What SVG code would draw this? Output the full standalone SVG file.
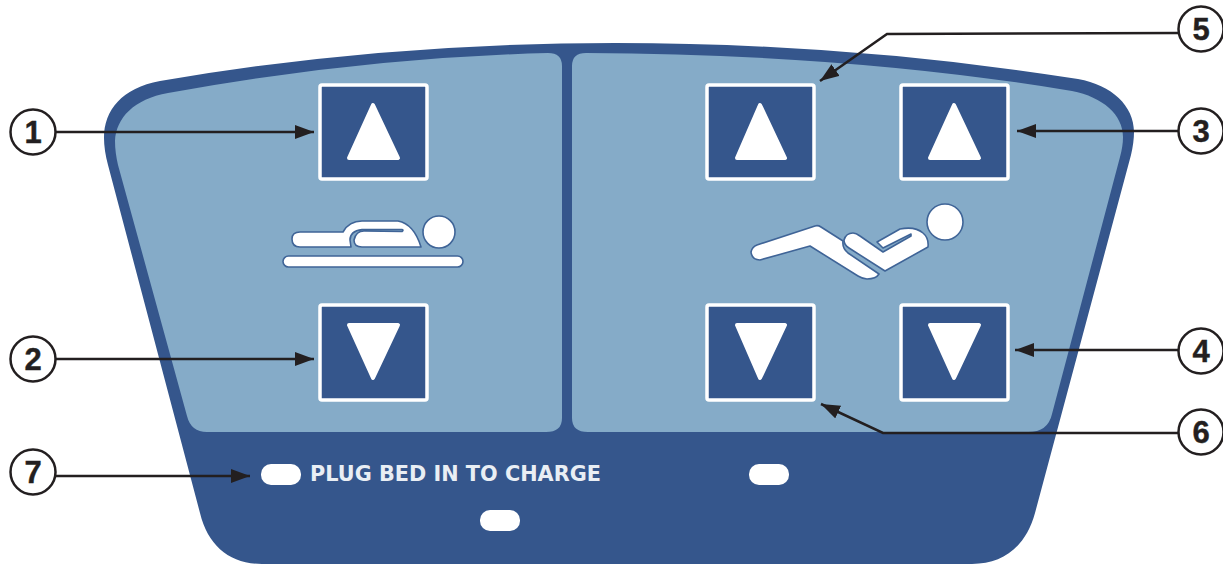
<svg xmlns="http://www.w3.org/2000/svg" width="1223" height="566" viewBox="0 0 1223 566">
<defs>
<style>
.dark{fill:#35568c}
.panel{fill:#85abc8}
.btn{fill:#35568c;stroke:#fff;stroke-width:3.5}
.wht{fill:#fff}
.tri{fill:#fff;stroke:#fff;stroke-width:4;stroke-linejoin:round}
.ico{fill:#fff;stroke:#3f6497;stroke-width:1.6;stroke-linejoin:round}
.conn{fill:none;stroke:#231f20;stroke-width:2.5}
.cir{fill:#fff;stroke:#231f20;stroke-width:2.5}
.num{font-family:"Liberation Sans",Arial,sans-serif;font-weight:700;font-size:31px;fill:#231f20;text-anchor:middle;stroke:#231f20;stroke-width:.4}
.lbl{font-family:"DejaVu Sans",Verdana,sans-serif;font-weight:700;font-size:22px;fill:#e9eef4}
</style>
<marker id="arr" markerUnits="userSpaceOnUse" markerWidth="20" markerHeight="16" refX="19" refY="7" orient="auto">
<path d="M0 0L19 7L0 14Z" fill="#231f20"/>
</marker>
</defs>
<g id="panel">
<path class="dark" d="M160 81Q380 43 615 43Q850 43 1078 79C1112 85 1134 106 1134 132Q1134 142 1131 155L1035 513C1026 546 1004 564 972 564L262 564C230 564 208 546 200 513L108 165Q104 150 104 138C104 110 122 88 160 81Z"/>
<path class="panel" d="M168 93Q360 58 548 53Q562 53 562 66L562 418Q562 432 546 432L207 432Q191 432 187 416L118 165Q115 152 115 141C116 118 134 99 168 93Z"/>
<path class="panel" d="M572 66Q572 53 586 53Q850 54 1072 91C1103 97 1123 115 1123 137Q1123 146 1120 157L1052 414Q1048 432 1028 432L588 432Q572 432 572 418Z"/>
</g>
<g id="button-left-up"><rect class="btn" x="320" y="85" width="107" height="94" rx="2"/><path class="tri" d="M373 105L398 158L349 158Z"/></g>
<g id="button-left-down"><rect class="btn" x="320" y="305" width="107" height="95" rx="2"/><path class="tri" d="M373 378L398 325L349 325Z"/></g>
<g id="button-mid-up"><rect class="btn" x="707" y="85" width="107" height="94" rx="2"/><path class="tri" d="M760 105L785 158L737 158Z"/></g>
<g id="button-mid-down"><rect class="btn" x="707" y="305" width="107" height="95" rx="2"/><path class="tri" d="M760 378L785 325L737 325Z"/></g>
<g id="button-right-up"><rect class="btn" x="901" y="85" width="107" height="94" rx="2"/><path class="tri" d="M954 105L979 158L930 158Z"/></g>
<g id="button-right-down"><rect class="btn" x="901" y="305" width="107" height="95" rx="2"/><path class="tri" d="M954 378L979 325L930 325Z"/></g>
<g id="icon-flat">
<rect class="ico" x="283" y="256" width="180" height="11" rx="5.5"/>
<circle class="ico" cx="439" cy="232" r="16"/>
<path class="ico" d="M300 232L343 232Q349 221 362 221L398 221Q414 224 421 247L362 247Q354 247 354 240Q356 231 364 231L402 231.500Q404 230 402 229.500L362 229.500Q350 231 350 240L351 247L300 247Q292 247 292 239Q292 232 300 232Z"/>
</g>
<g id="icon-recline">
<circle class="ico" cx="945" cy="222" r="18"/>
<path class="ico" d="M757 245L815 226Q818 225 821 227L843 241Q842 248 848 253L879 274Q876 279 867 279Q863 279 858 276L810 246L760 260Q752 260 751 252Q752 247 757 245Z"/>
<path class="ico" d="M844 240Q846 233 853 233Q856 233 860 236L883 252L911 236L911 234L883 248L877 242L900 229Q915 226 923 233Q929 238 928 247L885 271L849 248Q844 245 844 240Z"/>
</g>
<g id="led-1"><rect class="wht" x="261" y="464" width="40" height="21" rx="10"/></g>
<g id="led-2"><rect class="wht" x="749" y="464" width="40" height="21" rx="10"/></g>
<g id="led-3"><rect class="wht" x="480" y="510" width="40" height="21" rx="10"/></g>
<text class="lbl" x="310" y="481" textLength="291" lengthAdjust="spacingAndGlyphs">PLUG BED IN TO CHARGE</text>
<g id="connectors">
<path class="conn" marker-end="url(#arr)" d="M55 132L314 132"/>
<path class="conn" marker-end="url(#arr)" d="M55 359L314 359"/>
<path class="conn" marker-end="url(#arr)" d="M1179 131L1017 131"/>
<path class="conn" marker-end="url(#arr)" d="M1179 350L1015 350"/>
<path class="conn" marker-end="url(#arr)" d="M1179 33L887 34L820 81"/>
<path class="conn" marker-end="url(#arr)" d="M1179 433L883 433L821 404"/>
<path class="conn" marker-end="url(#arr)" d="M55 476L250 476"/>
</g>
<g id="callout-1"><circle class="cir" cx="33" cy="132" r="22.500"/><text class="num" x="33" y="143">1</text></g>
<g id="callout-2"><circle class="cir" cx="33" cy="359" r="22.500"/><text class="num" x="33" y="370">2</text></g>
<g id="callout-7"><circle class="cir" cx="33" cy="472" r="22.500"/><text class="num" x="33" y="483">7</text></g>
<g id="callout-5"><circle class="cir" cx="1201" cy="29" r="22.500"/><text class="num" x="1201" y="40">5</text></g>
<g id="callout-3"><circle class="cir" cx="1201" cy="131" r="22.500"/><text class="num" x="1201" y="142">3</text></g>
<g id="callout-4"><circle class="cir" cx="1201" cy="351" r="22.500"/><text class="num" x="1201" y="362">4</text></g>
<g id="callout-6"><circle class="cir" cx="1201" cy="432" r="22.500"/><text class="num" x="1201" y="443">6</text></g>
</svg>
